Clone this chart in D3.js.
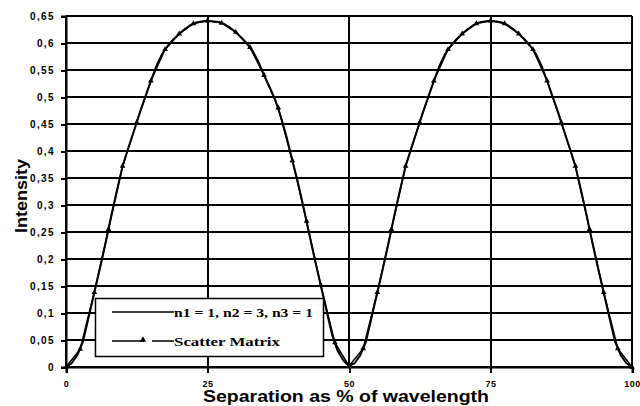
<!DOCTYPE html>
<html>
<head>
<meta charset="utf-8">
<script src="https://cdn.jsdelivr.net/npm/d3@7"></script>
<style>
  html, body { margin: 0; padding: 0; background: #fff; }
  svg { display: block; }
</style>
</head>
<body>
<svg id="chart" width="640" height="406"></svg>
<script>
// Separation (% of wavelength) for the analytic curve, 1 % steps
const separation = [
  0, 1, 2, 3, 4, 5, 6, 7, 8, 9, 10, 11, 12, 13, 14, 15, 16, 17, 18, 19, 20,
  21, 22, 23, 24, 25, 26, 27, 28, 29, 30, 31, 32, 33, 34, 35, 36, 37, 38, 39, 40,
  41, 42, 43, 44, 45, 46, 47, 48, 49, 50, 51, 52, 53, 54, 55, 56, 57, 58, 59, 60,
  61, 62, 63, 64, 65, 66, 67, 68, 69, 70, 71, 72, 73, 74, 75, 76, 77, 78, 79, 80,
  81, 82, 83, 84, 85, 86, 87, 88, 89, 90, 91, 92, 93, 94, 95, 96, 97, 98, 99, 100
];
// Intensity for n1 = 1, n2 = 3, n3 = 1
const intensityAnalytic = [
  0, 0.007, 0.022, 0.047, 0.092, 0.138, 0.183, 0.230, 0.280, 0.327, 0.372,
  0.405, 0.437, 0.470, 0.500, 0.530, 0.558, 0.580, 0.595, 0.607, 0.617,
  0.626, 0.633, 0.638, 0.640, 0.641, 0.640, 0.639, 0.635, 0.628, 0.620,
  0.610, 0.599, 0.585, 0.565, 0.540, 0.518, 0.494, 0.462, 0.425, 0.382,
  0.341, 0.294, 0.245, 0.197, 0.152, 0.106, 0.060, 0.030, 0.012, 0.002,
  0.007, 0.022, 0.047, 0.092, 0.138, 0.183, 0.230, 0.280, 0.327, 0.372,
  0.405, 0.437, 0.470, 0.500, 0.530, 0.558, 0.580, 0.595, 0.607, 0.617,
  0.626, 0.633, 0.638, 0.640, 0.641, 0.640, 0.638, 0.633, 0.626, 0.617,
  0.607, 0.595, 0.580, 0.558, 0.530, 0.500, 0.470, 0.437, 0.405, 0.372,
  0.327, 0.280, 0.230, 0.183, 0.138, 0.092, 0.047, 0.022, 0.007, 0
];

// Scatter-matrix samples, every 2.5 %
const separationScatter = [
  0, 2.5, 5, 7.5, 10, 12.5, 15, 17.5, 20, 22.5, 25, 27.5, 30, 32.5, 35, 37.5, 40,
  42.5, 45, 47.5, 50, 52.5, 55, 57.5, 60, 62.5, 65, 67.5, 70, 72.5, 75, 77.5, 80,
  82.5, 85, 87.5, 90, 92.5, 95, 97.5, 100
];
const intensityScatter = [
  0, 0.033, 0.138, 0.255, 0.372, 0.453, 0.530, 0.588, 0.617, 0.636, 0.641,
  0.637, 0.620, 0.592, 0.540, 0.480, 0.382, 0.270, 0.152, 0.045, 0.002,
  0.034, 0.138, 0.255, 0.372, 0.453, 0.530, 0.588, 0.617, 0.636, 0.641,
  0.636, 0.617, 0.588, 0.530, 0.453, 0.372, 0.255, 0.138, 0.034, 0
];

const xTicks = [0, 25, 50, 75, 100];
const yTicks = [0, 0.05, 0.1, 0.15, 0.2, 0.25, 0.3, 0.35, 0.4, 0.45, 0.5, 0.55, 0.6, 0.65];

const seriesNames = ["n1 = 1, n2 = 3, n3 = 1", "Scatter Matrix"];
const xTitle = "Separation as % of wavelength";
const yTitle = "Intensity";

const svg = d3.select("#chart");
const plot = { left: 66, right: 632, top: 16, bottom: 367 };

const x = d3.scaleLinear().domain([0, 100]).range([plot.left, plot.right]);
const y = d3.scaleLinear().domain([0, 0.65]).range([plot.bottom, plot.top]);

const commaFmt = v => String(+v.toFixed(2)).replace(".", ",");

// horizontal grid lines
svg.append("g")
  .selectAll("line")
  .data(yTicks)
  .join("line")
  .attr("x1", plot.left).attr("x2", plot.right)
  .attr("y1", d => Math.round(y(d))).attr("y2", d => Math.round(y(d)))
  .attr("stroke", "#000").attr("stroke-width", 2)
  .attr("shape-rendering", "crispEdges");

// vertical grid lines
svg.append("g")
  .selectAll("line")
  .data(xTicks)
  .join("line")
  .attr("x1", d => Math.round(x(d))).attr("x2", d => Math.round(x(d)))
  .attr("y1", plot.top).attr("y2", plot.bottom)
  .attr("stroke", "#000").attr("stroke-width", 2)
  .attr("shape-rendering", "crispEdges");

// y axis
const yAxis = svg.append("g")
  .attr("transform", `translate(${plot.left},0)`)
  .call(d3.axisLeft(y).tickValues(yTicks).tickFormat(commaFmt).tickSize(5).tickPadding(6));
yAxis.select(".domain").attr("stroke", "#000").attr("stroke-width", 2);
yAxis.selectAll(".tick line").attr("stroke", "#000").attr("stroke-width", 2)
  .attr("shape-rendering", "crispEdges");
yAxis.selectAll(".tick text")
  .attr("font-family", "'Liberation Sans', Arial, sans-serif")
  .attr("font-weight", "bold").attr("font-size", 10)
  .attr("letter-spacing", "1.4px")
  .attr("fill", "#000");

// x axis
const xAxis = svg.append("g")
  .attr("transform", `translate(0,${plot.bottom})`)
  .call(d3.axisBottom(x).tickValues(xTicks).tickFormat(d => String(d)).tickSize(6).tickPadding(8));
xAxis.select(".domain").attr("stroke", "#000").attr("stroke-width", 2);
xAxis.selectAll(".tick line").attr("stroke", "#000").attr("stroke-width", 2)
  .attr("shape-rendering", "crispEdges");
xAxis.selectAll(".tick text")
  .attr("font-family", "'Liberation Sans', Arial, sans-serif")
  .attr("font-weight", "bold").attr("font-size", 9)
  .attr("letter-spacing", "0.5px")
  .attr("fill", "#000");

// analytic curve
const line = d3.line().x(d => x(d[0])).y(d => y(d[1]));
svg.append("path")
  .datum(separation.map((s, i) => [s, intensityAnalytic[i]]))
  .attr("d", line)
  .attr("fill", "none").attr("stroke", "#000").attr("stroke-width", 2)
  .attr("stroke-linejoin", "round");

// scatter-matrix series with triangle markers
const scatterPts = separationScatter.map((s, i) => [s, intensityScatter[i]]);
svg.append("path")
  .datum(scatterPts)
  .attr("d", line)
  .attr("fill", "none").attr("stroke", "#000").attr("stroke-width", 1.5);
const tri = d3.symbol().type(d3.symbolTriangle).size(14);
svg.append("g")
  .selectAll("path")
  .data(scatterPts)
  .join("path")
  .attr("d", tri)
  .attr("transform", d => `translate(${x(d[0])},${y(d[1])})`)
  .attr("fill", "#000");

// legend
const legend = svg.append("g");
legend.append("rect")
  .attr("x", 95.5).attr("y", 298.5).attr("width", 228).attr("height", 58)
  .attr("fill", "#fff").attr("stroke", "#000").attr("stroke-width", 1.5);
legend.append("line")
  .attr("x1", 112).attr("x2", 174).attr("y1", 312).attr("y2", 312)
  .attr("stroke", "#000").attr("stroke-width", 1.5);
legend.append("line")
  .attr("x1", 112).attr("x2", 144).attr("y1", 341).attr("y2", 341)
  .attr("stroke", "#000").attr("stroke-width", 1.5);
legend.append("line")
  .attr("x1", 152).attr("x2", 174).attr("y1", 341).attr("y2", 341)
  .attr("stroke", "#000").attr("stroke-width", 1.5);
legend.append("path")
  .attr("d", d3.symbol().type(d3.symbolTriangle).size(18))
  .attr("transform", "translate(143,340)")
  .attr("fill", "#000");
legend.selectAll("text")
  .data(seriesNames)
  .join("text")
  .attr("x", 174)
  .attr("y", (d, i) => 317 + i * 29)
  .attr("font-family", "'Liberation Serif', 'Times New Roman', serif")
  .attr("font-weight", "bold")
  .attr("font-size", 13)
  .attr("textLength", (d, i) => i === 0 ? 139 : 106)
  .attr("lengthAdjust", "spacingAndGlyphs")
  .attr("fill", "#000")
  .text(d => d);

// axis titles
svg.append("text")
  .attr("x", 346).attr("y", 402)
  .attr("text-anchor", "middle")
  .attr("font-family", "'Liberation Sans', Arial, sans-serif")
  .attr("font-weight", "bold").attr("font-size", 16)
  .attr("textLength", 286).attr("lengthAdjust", "spacingAndGlyphs")
  .attr("fill", "#000")
  .text(xTitle);

svg.append("text")
  .attr("transform", "translate(27,196) rotate(-90)")
  .attr("text-anchor", "middle")
  .attr("font-family", "'Liberation Sans', Arial, sans-serif")
  .attr("font-weight", "bold").attr("font-size", 16)
  .attr("textLength", 74).attr("lengthAdjust", "spacingAndGlyphs")
  .attr("fill", "#000")
  .text(yTitle);
</script>
</body>
</html>
